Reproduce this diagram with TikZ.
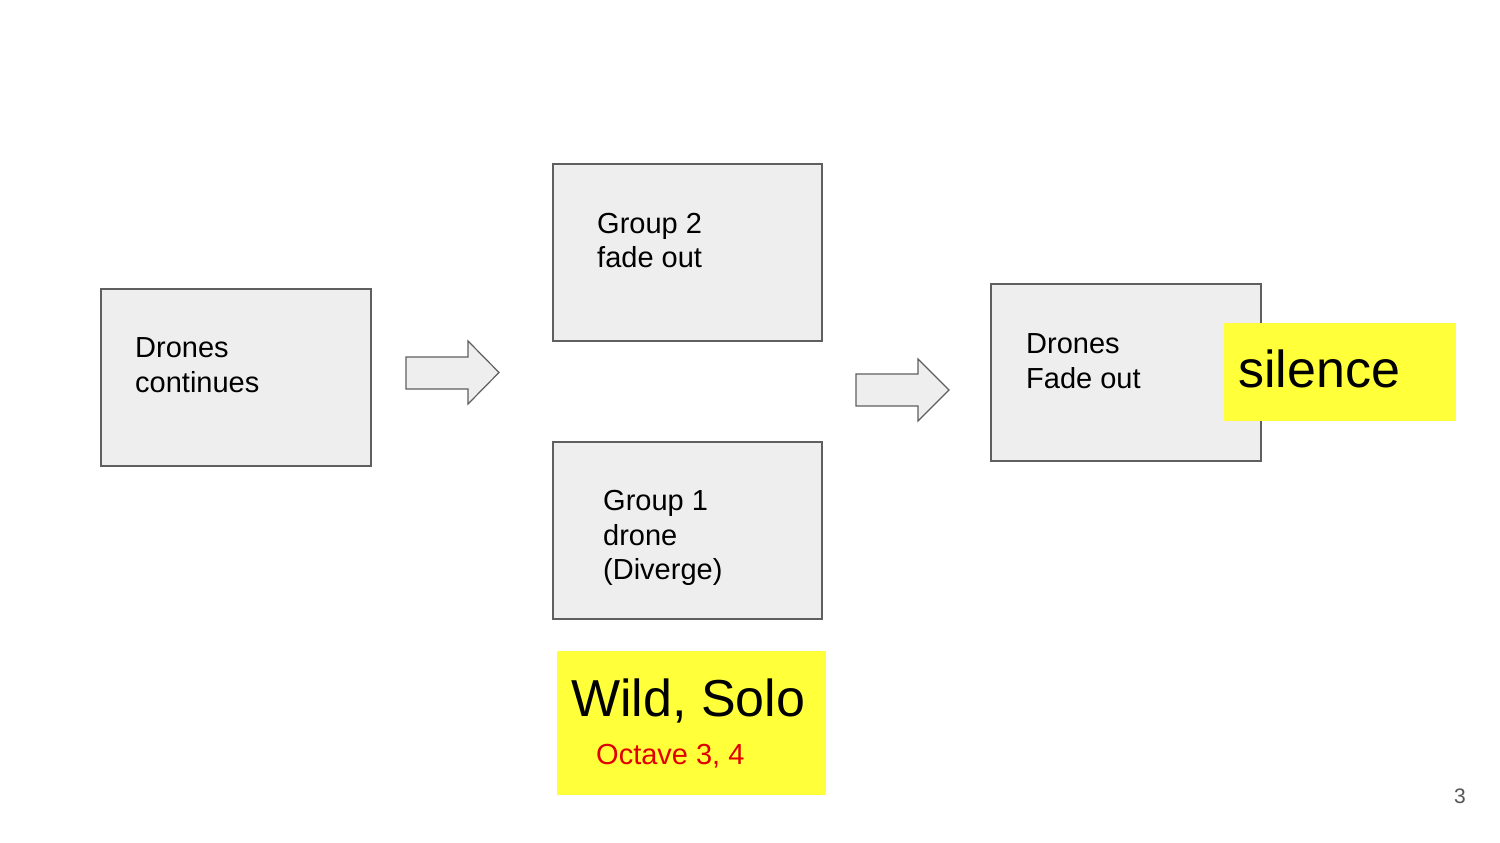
\documentclass[tikz,border=0pt]{standalone}
\usepackage{fontspec}
\setmainfont{Liberation Sans}
\definecolor{boxfill}{HTML}{EEEEEE}
\definecolor{boxline}{HTML}{5F5F5F}
\definecolor{hiyellow}{HTML}{FFFF3A}
\definecolor{txtred}{HTML}{E00000}
\definecolor{pagegray}{HTML}{555555}
\begin{document}
\begin{tikzpicture}[x=1pt,y=-1pt,
  stepbox/.style={draw=boxline,fill=boxfill,line width=1.5pt,inner sep=0pt,outer sep=0pt,
    minimum width=270pt,minimum height=177pt,anchor=north west},
  blockarrow/.style={draw=boxline,fill=boxfill,line width=1.2pt,line join=miter},
  hilite/.style={fill=hiyellow,inner sep=0pt,outer sep=0pt,anchor=north west},
  boxtext/.style={inner sep=0pt,anchor=north west,align=left,
    font=\fontsize{29}{34.5}\selectfont},
]
\useasboundingbox (0,0) rectangle (1500,843);
\fill[white] (0,0) rectangle (1500,843);
% boxes
\node[stepbox] (boxA) at (101,289) {};
\node[boxtext] (txtA) at (135,337.5) {Drones\\continues};
\node[stepbox,minimum width=269pt] (boxB) at (553,164) {};
\node[boxtext] (txtB) at (597,213) {Group 2\\fade out};
\node[stepbox,minimum width=269pt] (boxC) at (553,442) {};
\node[boxtext] (txtC) at (603,490.5) {Group 1\\drone\\(Diverge)};
\node[stepbox] (boxD) at (991,284) {};
\node[boxtext] (txtD) at (1026,333.5) {Drones\\Fade out};
% block arrows
\draw[blockarrow] (406,357) -- (468,357) -- (468,341) -- (499,372.5) -- (468,404) -- (468,389) -- (406,389) -- cycle;
\draw[blockarrow] (856,374) -- (918,374) -- (918,359) -- (949,390) -- (918,421) -- (918,406) -- (856,406) -- cycle;
% highlights
\node[hilite,minimum width=232pt,minimum height=98pt] (silencebox) at (1224,323) {};
\node[inner sep=0pt,anchor=base west,font=\fontsize{52}{60}\selectfont] (silence) at (1238,387) {silence};
\node[hilite,minimum width=269pt,minimum height=144pt] (wildbox) at (557,651) {};
\node[inner sep=0pt,anchor=base west,font=\fontsize{52}{60}\selectfont] (wild) at (571,716) {Wild, Solo};
\node[inner sep=0pt,anchor=base west,text=txtred,font=\fontsize{29}{34}\selectfont] (octave) at (596,764.5) {Octave 3, 4};
% page number
\node[inner sep=0pt,anchor=base,text=pagegray,font=\fontsize{21}{24}\selectfont] (pagenum) at (1460,803.5) {3};
\end{tikzpicture}
\end{document}
